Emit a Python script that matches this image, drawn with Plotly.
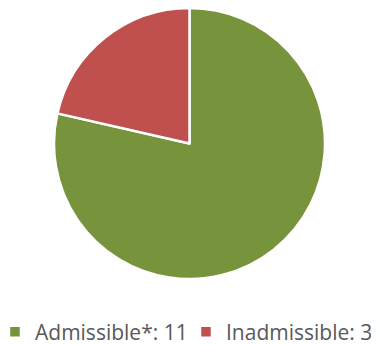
import plotly.graph_objects as go

labels = ["Admissible*: 11", "Inadmissible: 3"]
values = [11, 3]
colors = ["#77933C", "#C0504D"]

W, H = 379, 345
OFF = 8          # the page body has an 8px margin, so the figure sits 8px right/down
B = 45           # bottom margin that holds the legend
PH = H - B       # plot-area height

fig = go.Figure(go.Pie(
    labels=labels,
    values=values,
    marker=dict(colors=colors, line=dict(color="white", width=2.5)),
    textinfo="none",
    hoverinfo="label+percent",
    sort=False,
    direction="clockwise",
    rotation=0,
    domain=dict(x=[(54 - OFF)/W, (325 - OFF)/W], y=[1-(279 - OFF)/PH, 1.0]),
))

fig.update_layout(
    width=W, height=H,
    margin=dict(l=0, r=0, t=0, b=B, pad=0, autoexpand=False),
    paper_bgcolor="white",
    plot_bgcolor="white",
    showlegend=True,
    legend=dict(
        orientation="h",
        x=-13/W, xanchor="left",
        y=(PH - (332 - OFF))/PH, yanchor="middle",
        font=dict(family="Open Sans, Liberation Sans, sans-serif", size=21, color="#595959"),
        itemwidth=30,
        entrywidth=146,
        entrywidthmode="pixels",
        tracegroupgap=0,
        bgcolor="rgba(0,0,0,0)",
    ),
)

fig.write_html("out.html")
